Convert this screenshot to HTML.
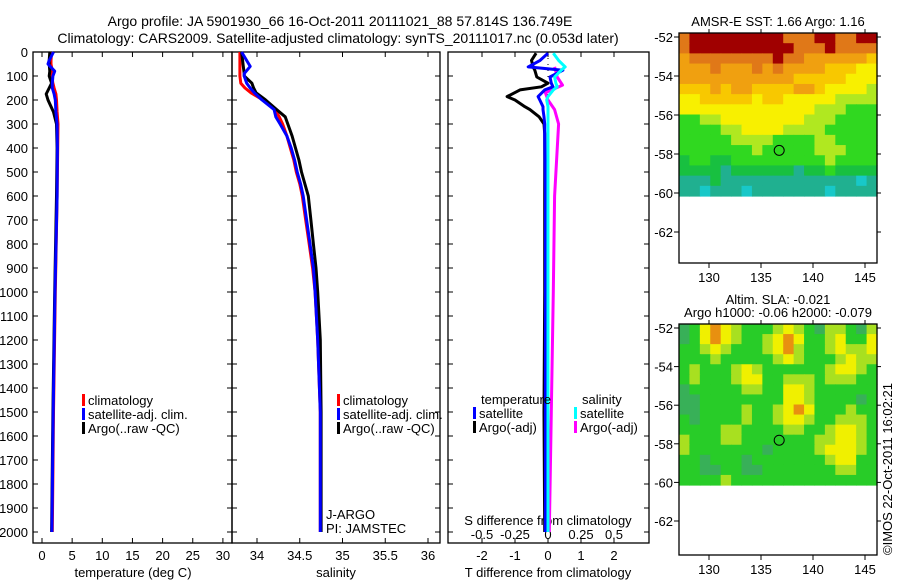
<!DOCTYPE html>
<html><head><meta charset="utf-8"><style>
body{margin:0;background:#fff}
svg{display:block;font-family:"Liberation Sans",sans-serif}
text{font-size:13px;fill:#000}
text.t{font-size:14px}
</style></head><body>
<svg id="c" width="900" height="580" viewBox="0 0 900 580">
<text class="t" x="340" y="26" text-anchor="middle">Argo profile: JA 5901930_66 16-Oct-2011 20111021_88 57.814S 136.749E</text>
<text class="t" x="338" y="43" text-anchor="middle">Climatology: CARS2009. Satellite-adjusted climatology: synTS_20111017.nc (0.053d later)</text>
<text x="778" y="26" text-anchor="middle">AMSR-E SST: 1.66 Argo: 1.16</text>
<text x="778" y="304" text-anchor="middle">Altim. SLA: -0.021</text>
<text x="778" y="317" text-anchor="middle">Argo h1000: -0.06 h2000: -0.079</text>
<text transform="translate(892,555) rotate(-90)">©IMOS 22-Oct-2011 16:02:21</text>
<g id="g"></g>
</svg>
<script>
// ---- data ----
const tempDepth=[0,35,50,80,100,130,150,175,200,250,300,400,600,1000,1500,2000];
const tempClim=[1.6,1.5,1.5,1.7,1.6,1.8,2.0,2.3,2.4,2.5,2.65,2.6,2.5,2.2,1.9,1.7];
const tempSat=[1.9,1.2,1.0,2.1,1.8,1.7,1.7,2.0,2.2,2.3,2.5,2.55,2.5,2.15,1.85,1.65];
const tempArgo=[1.3,1.2,1.2,1.3,1.2,1.6,1.2,0.7,1.0,1.9,2.4,2.5,2.4,2.1,1.8,1.6];
const salDepth=[0,60,90,100,130,150,170,200,240,270,300,350,400,450,500,550,600,700,800,900,1000,1200,1500,2000];
const salClim=[33.80,33.80,33.80,33.80,33.81,33.86,33.93,34.07,34.21,34.26,34.30,34.35,34.39,34.43,34.46,34.50,34.53,34.57,34.61,34.65,34.68,34.71,34.74,34.74];
const salSat=[33.82,33.92,33.85,33.85,33.88,33.92,33.97,34.06,34.20,34.22,34.27,34.35,34.40,34.44,34.47,34.51,34.54,34.58,34.62,34.66,34.68,34.71,34.74,34.74];
const salArgo=[33.82,33.84,33.85,33.85,33.94,33.96,33.99,34.10,34.23,34.33,34.36,34.41,34.45,34.49,34.52,34.56,34.60,34.63,34.66,34.69,34.71,34.74,34.75,34.75];
const dDepth=[5,35,62,76,104,130,145,158,186,200,228,240,270,300,340,600,1000,1500,2000];
const dTArgo=[-0.36,-0.5,-0.45,-0.4,-0.34,0,-0.2,-0.85,-1.24,-1.0,-0.7,-0.55,-0.27,-0.12,-0.1,-0.1,-0.1,-0.12,-0.1];
const dTSat=[0,-0.24,-0.6,0.45,0.06,0.1,0.15,-0.1,-0.3,-0.25,-0.15,-0.15,-0.12,-0.1,-0.1,-0.08,-0.08,-0.08,-0.08];
const dSSat=[0.04,0.08,0.13,0.1,0.05,0.06,0.07,0.04,0,-0.01,0,0,0,0,0,0,0,0,0];
const dSArgoDepth=[62,104,138,170,200,240,300,600,1000,1500,2000];
const dSArgo=[0.05,0.07,0.11,-0.02,0,0.05,0.08,0.05,0.04,0.025,0.01];
const sstGrid=[
[8,9,9,9,9,9,9,9,9,9,8,8,8,9,9,8,8,9,9],
[8,9,9,9,9,9,9,9,9,9,9,8,8,8,9,8,8,8,8],
[7,8,8,8,8,8,8,8,8,9,8,8,7,7,7,7,7,7,6],
[7,7,7,8,7,7,7,8,7,8,7,7,7,7,6,6,6,5,5],
[7,7,7,7,7,7,7,7,7,7,7,6,6,6,6,6,5,5,5],
[6,6,6,7,6,7,7,6,6,6,6,7,7,6,5,5,5,5,4],
[5,5,6,6,6,6,6,5,6,6,5,5,5,5,5,4,4,4,4],
[5,5,5,5,5,5,5,5,5,5,5,5,5,4,4,4,3,3,3],
[3,3,4,4,5,5,5,5,5,5,5,5,4,4,4,3,3,3,3],
[3,3,3,3,4,4,5,5,5,5,4,4,4,4,3,3,3,3,3],
[3,3,3,3,3,4,4,4,4,3,3,3,3,4,4,3,3,3,3],
[3,3,3,3,3,3,3,4,3,3,3,3,3,4,4,4,3,3,3],
[2,3,3,2,2,3,3,3,3,3,3,3,3,3,4,3,3,3,3],
[2,2,2,2,1,2,2,2,2,2,2,1,2,2,3,2,2,2,2],
[1,1,1,2,1,1,1,1,1,1,1,1,1,1,1,1,1,0,1],
[1,1,0,1,1,1,0,1,1,1,1,1,1,1,0,1,1,1,1]];
const slaGrid=[
[0,1,3,4,3,2,1,1,1,2,3,2,1,0,2,2,1,0,2],
[0,1,3,4,3,2,1,1,2,3,4,3,1,1,2,3,1,1,3],
[1,1,2,3,2,1,1,1,2,3,4,2,1,1,2,3,2,2,3],
[1,1,1,2,1,1,1,1,1,2,3,2,1,1,1,2,3,2,2],
[1,2,1,1,1,2,3,2,1,1,1,1,1,1,2,3,3,2,1],
[1,2,1,1,1,2,3,3,1,1,2,2,2,1,2,2,2,1,1],
[0,1,1,1,1,1,2,2,1,1,3,3,2,1,1,1,1,1,1],
[0,0,1,1,1,1,1,1,1,1,3,3,2,1,1,1,1,0,1],
[0,0,1,1,1,1,2,1,1,2,3,4,3,1,1,1,2,1,1],
[1,0,1,1,1,1,2,1,1,2,3,3,2,1,1,2,2,2,1],
[1,1,1,1,2,2,1,1,1,1,2,2,1,1,2,3,3,2,1],
[2,1,1,1,2,2,1,1,1,1,1,1,1,2,2,3,3,2,1],
[2,1,1,1,1,1,1,1,0,1,1,1,1,2,3,3,3,2,1],
[1,1,0,1,1,1,0,1,1,1,1,1,1,1,2,3,3,1,1],
[1,1,0,0,1,1,0,0,1,1,1,1,1,1,1,2,2,1,1],
[1,1,1,1,2,1,1,1,1,1,1,1,1,1,1,1,1,1,1]];
const argoLon=136.749, argoLat=-57.814;
const depthTicks=[0,100,200,300,400,500,600,700,800,900,1000,1100,1200,1300,1400,1500,1600,1700,1800,1900,2000];
const tempTicks=[0,5,10,15,20,25,30];
const salTicks=[34,34.5,35,35.5,36];
const salTickLabels=["34","34.5","35","35.5","36"];
const dTTicks=[-2,-1,0,1,2];
const dSTicks=[-0.5,-0.25,0,0.25,0.5];
const dSTickLabels=["-0.5","-0.25","0","0.25","0.5"];
const latTicks=[-52,-54,-56,-58,-60,-62];
const lonTicks=[130,135,140,145];
// ---- drawing ----
const NS="http://www.w3.org/2000/svg", G=document.getElementById('g');
function mk(t,a,p){const e=document.createElementNS(NS,t);for(const k in a)e.setAttribute(k,a[k]);(p||G).appendChild(e);return e;}
const yD=d=>52+d*0.24;
const xT=v=>42+v*6.03;
const xS=v=>257+(v-34)*85.5;
const xDT=v=>548+v*33;
const xDS=v=>548+v*132;
function frame(x0,y0,x1,y1,name){const r=mk('rect',{x:x0,y:y0,width:x1-x0,height:y1-y0,fill:'none',stroke:'#000','stroke-width':1.3});}
function line(xs,ds,xf,col,name,w){const pts=xs.map((v,i)=>xf(v).toFixed(1)+','+yD(ds[i]).toFixed(1)).join(' ');const p=mk('polyline',{points:pts,fill:'none',stroke:col,'stroke-width':w||3,'stroke-linejoin':'round'});}
function txt(x,y,s,anchor,name){const t=mk('text',{x:x,y:y,'text-anchor':anchor||'start'});t.textContent=s;return t;}
function tick(x1,y1,x2,y2){mk('line',{x1:x1,y1:y1,x2:x2,y2:y2,stroke:'#000','stroke-width':1});}
const P=[[33,232],[232,440],[448,649]];
const panelTop=52,panelBot=543;
P.forEach((p,i)=>{frame(p[0],panelTop,p[1],panelBot,'profile-panel-'+(i+1));
 depthTicks.forEach(d=>{tick(p[0],yD(d),p[0]+5,yD(d));tick(p[1],yD(d),p[1]-5,yD(d));});});
depthTicks.forEach(d=>txt(28,yD(d)+5,String(d),'end','depth-tick-label'));
tempTicks.forEach(v=>{tick(xT(v),panelBot,xT(v),panelBot-5);tick(xT(v),panelTop,xT(v),panelTop+5);txt(xT(v),560,String(v),'middle','temp-tick-label');});
salTicks.forEach((v,i)=>{tick(xS(v),panelBot,xS(v),panelBot-5);tick(xS(v),panelTop,xS(v),panelTop+5);txt(xS(v),560,salTickLabels[i],'middle','salinity-tick-label');});
dTTicks.forEach(v=>{tick(xDT(v),panelBot,xDT(v),panelBot-5);tick(xDT(v),panelTop,xDT(v),panelTop+5);txt(xDT(v),560,String(v),'middle','tdiff-tick-label');});
dSTicks.forEach((v,i)=>txt(xDS(v),539,dSTickLabels[i],'middle','sdiff-tick-label'));
txt(133,577,'temperature (deg C)','middle','temp-axis-title');
txt(336,577,'salinity','middle','salinity-axis-title');
txt(548,577,'T difference from climatology','middle','tdiff-axis-title');
txt(548,525,'S difference from climatology','middle','sdiff-axis-title');
mk('line',{x1:548,y1:52,x2:548,y2:130,stroke:'#000','stroke-dasharray':'1,5'});
line(tempClim,tempDepth,xT,'#f00','temp-climatology-line');
line(tempArgo,tempDepth,xT,'#000','temp-argo-line');
line(tempSat,tempDepth,xT,'#00f','temp-satellite-line');
line(salClim,salDepth,xS,'#f00','salinity-climatology-line');
line(salArgo,salDepth,xS,'#000','salinity-argo-line');
line(salSat,salDepth,xS,'#00f','salinity-satellite-line');
line(dSArgo,dSArgoDepth,xDS,'#f0f','sdiff-argo-line');
line(dTArgo,dDepth,xDT,'#000','tdiff-argo-line');
line(dTSat,dDepth,xDT,'#00f','tdiff-satellite-line');
line(dSSat,dDepth,xDS,'#0ff','sdiff-satellite-line');
function leg(x,y,col,s,name){const r=mk('rect',{x:x,y:y-11,width:3,height:12,fill:col});txt(x+6,y,s,'start',name);}
[['climatology','#f00'],['satellite-adj. clim.','#00f'],["Argo(..raw -QC)",'#000']].forEach((l,i)=>leg(82,405+i*14,l[1],l[0],'legend-temp-'+i));
[['climatology','#f00'],['satellite-adj. clim.','#00f'],["Argo(..raw -QC)",'#000']].forEach((l,i)=>leg(337,405+i*14,l[1],l[0],'legend-sal-'+i));
txt(481,404,'temperature','start','legend-tdiff-heading');
leg(473,418,'#00f','satellite','legend-tdiff-satellite');
leg(473,432,'#000','Argo(-adj)','legend-tdiff-argo');
txt(582,404,'salinity','start','legend-sdiff-heading');
leg(574,418,'#0ff','satellite','legend-sdiff-satellite');
leg(574,432,'#f0f','Argo(-adj)','legend-sdiff-argo');
txt(326,519,'J-ARGO','start','float-program-label');
txt(326,533,'PI: JAMSTEC','start','float-pi-label');
const sstCols=['#18c8c8','#20b090','#18c040','#30d820','#b0e820','#f8f000','#f8c800','#f0a010','#e07818','#a00000'];
const slaCols=['#38b058','#28cc28','#a8e020','#f0f000','#e89010'];
const lonX=l=>709+(l-130)*10.4;
function drawMap(grid,cols,y52,scale,yTop,yBot,frameBot,name){
 const latY=l=>y52+(-52-l)*scale;
 const x0=679,x1=877;
 const rows=grid.length,cw=(x1-x0)/grid[0].length,rh=(yBot-yTop)/rows;
 const g=mk('g',{});
 grid.forEach((row,r)=>row.forEach((v,c)=>{const e=mk('rect',{x:(x0+c*cw).toFixed(2),y:(yTop+r*rh).toFixed(2),width:(cw+0.6).toFixed(2),height:(rh+0.6).toFixed(2),fill:cols[v]},g);}));
 frame(x0,yTop,x1,frameBot,name+'-frame');
 latTicks.forEach(l=>{tick(x0,latY(l),x0-5,latY(l));tick(x1,latY(l),x1+4,latY(l));txt(673,latY(l)+5,String(l),'end',name+'-lat-label');});
 lonTicks.forEach(l=>{tick(lonX(l),frameBot,lonX(l),frameBot+5);tick(lonX(l),yTop,lonX(l),yTop-4);txt(lonX(l),frameBot+19,String(l),'middle',name+'-lon-label');});
 const c=mk('circle',{cx:lonX(argoLon),cy:latY(argoLat),r:5,fill:'none',stroke:'#000','stroke-width':1});
}
drawMap(sstGrid,sstCols,37,19.5,33,196,263,'sst-map');
drawMap(slaGrid,slaCols,328,19.3,324,485,555,'sla-map');
</script>
</body></html>
